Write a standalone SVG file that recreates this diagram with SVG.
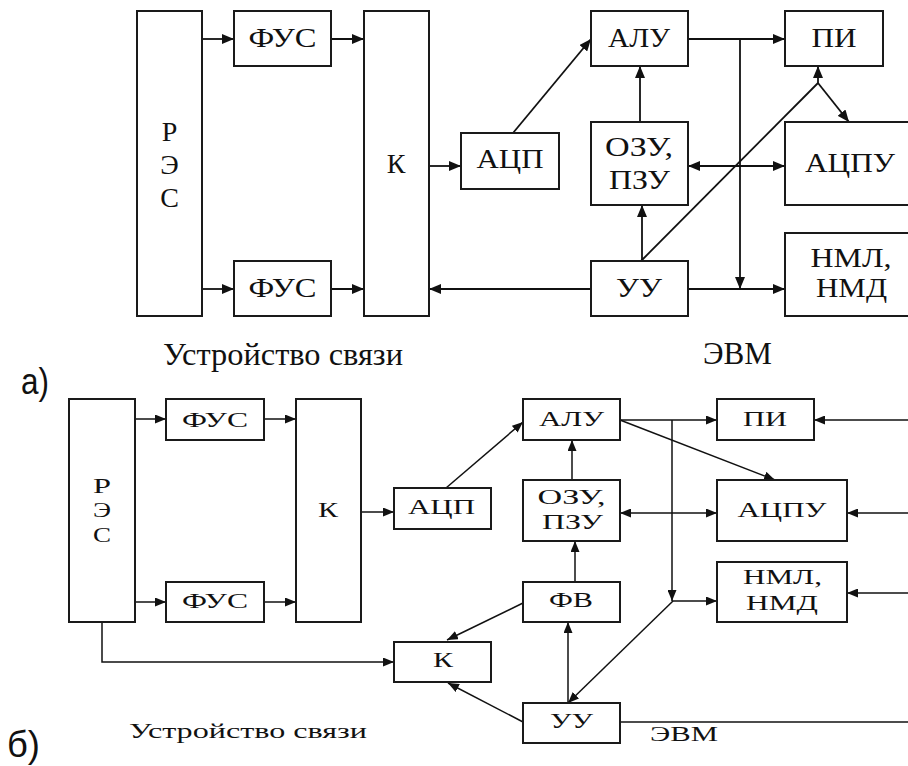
<svg xmlns="http://www.w3.org/2000/svg" width="908" height="766" viewBox="0 0 908 766">
<style>
.box{fill:#fff;stroke:#1a1a1a;stroke-width:2}
.ln{fill:none;stroke:#111;stroke-width:1.8}
.lb{fill:none;stroke:#111;stroke-width:1.5}
.t{font-size:28px;fill:#111;text-anchor:middle}
.s{font-size:20px;fill:#111;text-anchor:middle}
.cap{font-size:31px;fill:#111}
.capb{font-size:20px;fill:#111}
.lab{font-size:36px;fill:#111}
</style>
<defs>
<marker id="ah" markerUnits="userSpaceOnUse" markerWidth="12" markerHeight="10" refX="12" refY="5" orient="auto-start-reverse" viewBox="0 0 12 10">
<path d="M0,0 L12,5 L0,10 z" fill="#111"/>
</marker>
<marker id="ahs" markerUnits="userSpaceOnUse" markerWidth="11" markerHeight="9" refX="11" refY="4.5" orient="auto-start-reverse" viewBox="0 0 11 9">
<path d="M0,0 L11,4.5 L0,9 z" fill="#111"/>
</marker>
</defs>
<rect width="908" height="766" fill="#fff"/>

<g font-family="Liberation Serif, Times New Roman, serif">
<!-- Diagram a -->
<g id="connectors-a">
<line class="ln" x1="202" y1="39" x2="234" y2="39" marker-end="url(#ah)"/>
<line class="ln" x1="331" y1="39" x2="364" y2="39" marker-end="url(#ah)"/>
<line class="ln" x1="202" y1="289" x2="234" y2="289" marker-end="url(#ah)"/>
<line class="ln" x1="331" y1="289" x2="364" y2="289" marker-end="url(#ah)"/>
<line class="ln" x1="429" y1="166" x2="461" y2="166" marker-end="url(#ah)"/>
<line class="ln" x1="591" y1="289" x2="429" y2="289" marker-end="url(#ah)"/>
<line class="ln" x1="513" y1="133" x2="591" y2="39" marker-end="url(#ah)"/>
<line class="ln" x1="640" y1="122" x2="640" y2="66" marker-end="url(#ah)"/>
<line class="ln" x1="688" y1="39" x2="785" y2="39" marker-end="url(#ah)"/>
<line class="ln" x1="740" y1="39" x2="740" y2="289" marker-end="url(#ah)"/>
<line class="ln" x1="688" y1="289" x2="785" y2="289" marker-end="url(#ah)"/>
<line class="ln" x1="688" y1="166" x2="785" y2="166" marker-start="url(#ah)" marker-end="url(#ah)"/>
<line class="ln" x1="642" y1="261" x2="642" y2="205" marker-end="url(#ah)"/>
<line class="ln" x1="641" y1="261" x2="818" y2="83"/>
<line class="ln" x1="818" y1="83" x2="818" y2="66" marker-end="url(#ah)"/>
<line class="ln" x1="818" y1="83" x2="849" y2="122" marker-end="url(#ah)"/>
</g>

<g id="a-res"><rect class="box" x="137" y="11" width="65" height="305"/>
<text class="t" x="169.5" y="141">Р</text><text class="t" x="169.5" y="174">Э</text><text class="t" x="169.5" y="207">С</text></g>
<g id="a-fus1"><rect class="box" x="234" y="11" width="97" height="55"/><text class="t" x="282.5" y="47" textLength="68" lengthAdjust="spacingAndGlyphs">ФУС</text></g>
<g id="a-fus2"><rect class="box" x="234" y="261" width="97" height="55"/><text class="t" x="282.5" y="297" textLength="68" lengthAdjust="spacingAndGlyphs">ФУС</text></g>
<g id="a-k"><rect class="box" x="364" y="11" width="65" height="305"/><text class="t" x="396" y="173">К</text></g>
<g id="a-acp"><rect class="box" x="461" y="133" width="98" height="56"/><text class="t" x="510" y="168" textLength="67" lengthAdjust="spacingAndGlyphs">АЦП</text></g>
<g id="a-alu"><rect class="box" x="591" y="11" width="97" height="55"/><text class="t" x="639" y="47" textLength="62" lengthAdjust="spacingAndGlyphs">АЛУ</text></g>
<g id="a-ozu"><rect class="box" x="591" y="122" width="97" height="83"/>
<text class="t" x="639" y="156" textLength="68" lengthAdjust="spacingAndGlyphs">ОЗУ,</text><text class="t" x="639.5" y="189" textLength="61" lengthAdjust="spacingAndGlyphs">ПЗУ</text></g>
<g id="a-uu"><rect class="box" x="591" y="261" width="97" height="55"/><text class="t" x="639" y="297" textLength="46" lengthAdjust="spacingAndGlyphs">УУ</text></g>
<g id="a-pi"><rect class="box" x="785" y="11" width="98" height="55"/><text class="t" x="834" y="47" textLength="45" lengthAdjust="spacingAndGlyphs">ПИ</text></g>
<g id="a-acpu"><rect class="box" x="785" y="122" width="130" height="83"/><text class="t" x="850" y="172" textLength="90" lengthAdjust="spacingAndGlyphs">АЦПУ</text></g>
<g id="a-nml"><rect class="box" x="785" y="233" width="130" height="83"/>
<text class="t" x="851" y="267" textLength="81" lengthAdjust="spacingAndGlyphs">НМЛ,</text><text class="t" x="851.5" y="297" textLength="71" lengthAdjust="spacingAndGlyphs">НМД</text></g>

<text class="cap" x="163" y="365" textLength="240" lengthAdjust="spacingAndGlyphs">Устройство связи</text>
<text class="cap" x="703" y="364" textLength="69" lengthAdjust="spacingAndGlyphs">ЭВМ</text>

<!-- Diagram b -->
<g id="connectors-b">
<line class="lb" x1="135" y1="419" x2="166" y2="419" marker-end="url(#ahs)"/>
<line class="lb" x1="264" y1="419" x2="296" y2="419" marker-end="url(#ahs)"/>
<line class="lb" x1="135" y1="602" x2="166" y2="602" marker-end="url(#ahs)"/>
<line class="lb" x1="264" y1="602" x2="296" y2="602" marker-end="url(#ahs)"/>
<line class="lb" x1="361" y1="512" x2="394" y2="512" marker-end="url(#ahs)"/>
<polyline class="lb" points="102,622 102,662 394,662" marker-end="url(#ahs)"/>
<line class="lb" x1="446" y1="488" x2="523" y2="422" marker-end="url(#ahs)"/>
<line class="lb" x1="572" y1="480" x2="572" y2="440" marker-end="url(#ahs)"/>
<line class="lb" x1="575" y1="582" x2="575" y2="541" marker-end="url(#ahs)"/>
<line class="lb" x1="620" y1="420" x2="717" y2="420" marker-end="url(#ahs)"/>
<line class="lb" x1="620" y1="420" x2="775" y2="480" marker-end="url(#ahs)"/>
<line class="lb" x1="672" y1="420" x2="672" y2="601" marker-end="url(#ahs)"/>
<line class="lb" x1="672" y1="601" x2="717" y2="601" marker-end="url(#ahs)"/>
<line class="lb" x1="673" y1="601" x2="568" y2="703" marker-end="url(#ahs)"/>
<line class="lb" x1="568" y1="703" x2="568" y2="622" marker-end="url(#ahs)"/>
<line class="lb" x1="620" y1="513" x2="717" y2="513" marker-start="url(#ahs)" marker-end="url(#ahs)"/>
<line class="lb" x1="523" y1="603" x2="447" y2="640" marker-end="url(#ahs)"/>
<line class="lb" x1="523" y1="722" x2="448" y2="683" marker-end="url(#ahs)"/>
<line class="lb" x1="910" y1="420" x2="814" y2="420" marker-end="url(#ahs)"/>
<line class="lb" x1="910" y1="513" x2="847" y2="513" marker-end="url(#ahs)"/>
<line class="lb" x1="910" y1="593" x2="847" y2="593" marker-end="url(#ahs)"/>
<line class="lb" x1="620" y1="722" x2="910" y2="722"/>
</g>

<g id="b-res"><rect class="box" x="69" y="399" width="66" height="223"/>
<text class="s" x="102" y="493" textLength="18" lengthAdjust="spacingAndGlyphs">Р</text>
<text class="s" x="102" y="517" textLength="18" lengthAdjust="spacingAndGlyphs">Э</text>
<text class="s" x="102" y="542" textLength="18" lengthAdjust="spacingAndGlyphs">С</text></g>
<g id="b-fus1"><rect class="box" x="166" y="399" width="98" height="41"/><text class="s" x="215" y="427" textLength="66" lengthAdjust="spacingAndGlyphs">ФУС</text></g>
<g id="b-fus2"><rect class="box" x="166" y="582" width="98" height="40"/><text class="s" x="215" y="608" textLength="66" lengthAdjust="spacingAndGlyphs">ФУС</text></g>
<g id="b-k1"><rect class="box" x="296" y="399" width="65" height="223"/><text class="s" x="328" y="517" textLength="20" lengthAdjust="spacingAndGlyphs">К</text></g>
<g id="b-acp"><rect class="box" x="394" y="488" width="97" height="41"/><text class="s" x="441.5" y="514" textLength="67" lengthAdjust="spacingAndGlyphs">АЦП</text></g>
<g id="b-k2"><rect class="box" x="394" y="642" width="97" height="40"/><text class="s" x="443" y="667" textLength="20" lengthAdjust="spacingAndGlyphs">К</text></g>
<g id="b-alu"><rect class="box" x="523" y="399" width="97" height="41"/><text class="s" x="571.5" y="426" textLength="65" lengthAdjust="spacingAndGlyphs">АЛУ</text></g>
<g id="b-ozu"><rect class="box" x="523" y="480" width="97" height="61"/>
<text class="s" x="571.5" y="504" textLength="68" lengthAdjust="spacingAndGlyphs">ОЗУ,</text><text class="s" x="572.5" y="529" textLength="61" lengthAdjust="spacingAndGlyphs">ПЗУ</text></g>
<g id="b-fv"><rect class="box" x="523" y="582" width="97" height="40"/><text class="s" x="571" y="607" textLength="44" lengthAdjust="spacingAndGlyphs">ФВ</text></g>
<g id="b-uu"><rect class="box" x="523" y="703" width="97" height="40"/><text class="s" x="571.5" y="728" textLength="43" lengthAdjust="spacingAndGlyphs">УУ</text></g>
<g id="b-pi"><rect class="box" x="717" y="399" width="97" height="41"/><text class="s" x="765" y="426" textLength="44" lengthAdjust="spacingAndGlyphs">ПИ</text></g>
<g id="b-acpu"><rect class="box" x="717" y="480" width="130" height="61"/><text class="s" x="782" y="517" textLength="89" lengthAdjust="spacingAndGlyphs">АЦПУ</text></g>
<g id="b-nml"><rect class="box" x="717" y="562" width="130" height="60"/>
<text class="s" x="782.5" y="584" textLength="79" lengthAdjust="spacingAndGlyphs">НМЛ,</text><text class="s" x="782" y="610" textLength="72" lengthAdjust="spacingAndGlyphs">НМД</text></g>

<text class="capb" x="129" y="738" textLength="238" lengthAdjust="spacingAndGlyphs">Устройство связи</text>
<text class="capb" x="650" y="741" textLength="68" lengthAdjust="spacingAndGlyphs">ЭВМ</text>
</g>
<g font-family="Liberation Sans, Arial, sans-serif">
<text class="lab" x="21" y="394" textLength="28" lengthAdjust="spacingAndGlyphs">а)</text>
<text class="lab" x="7" y="757" textLength="33" lengthAdjust="spacingAndGlyphs">б)</text>
</g>
</svg>
